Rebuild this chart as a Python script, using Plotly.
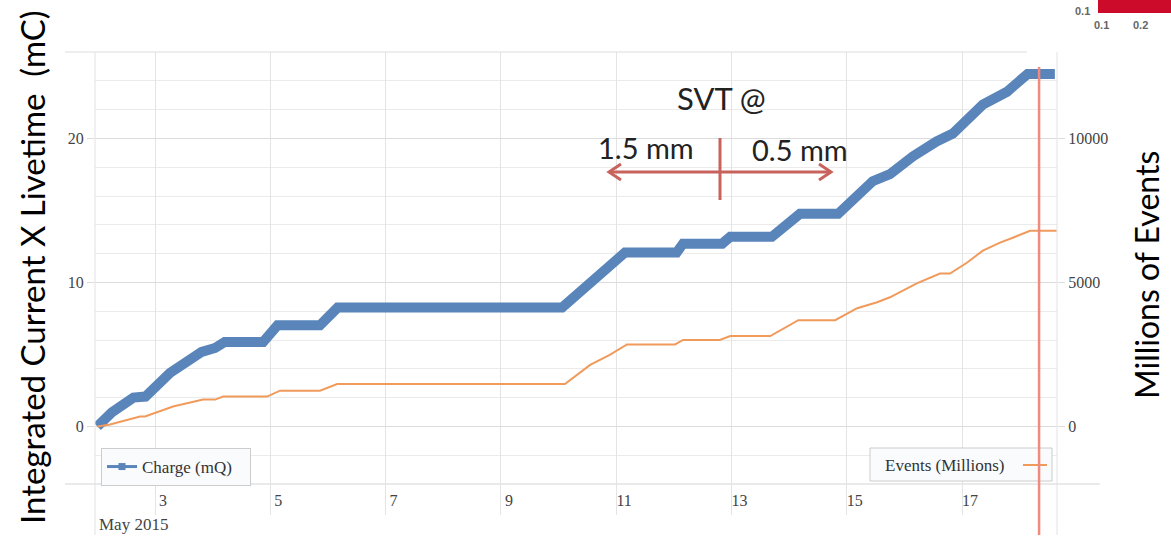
import plotly.graph_objects as go

# ---------------- data ----------------
charge_time = ["2015-05-02 00:00", "2015-05-02 06:00", "2015-05-02 15:00", "2015-05-02 20:00",
               "2015-05-03 06:15", "2015-05-03 19:25", "2015-05-04 01:00", "2015-05-04 05:00",
               "2015-05-04 21:00", "2015-05-05 03:00", "2015-05-05 20:40", "2015-05-06 04:00",
               "2015-05-10 01:30", "2015-05-11 03:40", "2015-05-12 01:10", "2015-05-12 03:50",
               "2015-05-12 20:10", "2015-05-12 23:30", "2015-05-13 16:50", "2015-05-14 04:30",
               "2015-05-14 20:25", "2015-05-15 04:20", "2015-05-15 10:50", "2015-05-15 18:00",
               "2015-05-16 03:35", "2015-05-16 13:25", "2015-05-16 20:10", "2015-05-17 08:40",
               "2015-05-17 18:45", "2015-05-18 03:20", "2015-05-18 14:40"]
charge_mc = [0.0, 0.97, 2.0, 2.07, 3.72, 5.17, 5.45, 5.86, 5.86, 7.03, 7.03, 8.25,
             8.25, 12.07, 12.07, 12.69, 12.69, 13.17, 13.17, 14.76, 14.76, 16.0, 17.03,
             17.52, 18.76, 19.79, 20.34, 22.34, 23.24, 24.48, 24.48]

events_time = ["2015-05-02 00:00", "2015-05-02 05:15", "2015-05-02 17:45", "2015-05-02 19:50",
               "2015-05-03 07:30", "2015-05-03 20:00", "2015-05-04 01:00", "2015-05-04 04:20",
               "2015-05-04 22:40", "2015-05-05 04:00", "2015-05-05 20:40", "2015-05-06 03:50",
               "2015-05-10 02:40", "2015-05-10 13:10", "2015-05-10 21:20", "2015-05-11 04:30",
               "2015-05-12 00:30", "2015-05-12 03:50", "2015-05-12 19:10", "2015-05-12 23:30",
               "2015-05-13 16:10", "2015-05-14 03:50", "2015-05-14 19:10", "2015-05-15 04:20",
               "2015-05-15 12:40", "2015-05-15 18:00", "2015-05-16 05:10", "2015-05-16 14:50",
               "2015-05-16 19:00", "2015-05-17 02:10", "2015-05-17 08:40", "2015-05-17 15:50",
               "2015-05-17 21:10", "2015-05-18 04:20", "2015-05-18 15:30"]
events_millions = [0, 69, 345, 345, 690, 931, 931, 1034, 1034, 1241, 1241, 1470,
                   1470, 2138, 2483, 2845, 2845, 3000, 3000, 3138, 3138, 3690, 3690, 4103,
                   4310, 4483, 4966, 5310, 5310, 5690, 6103, 6379, 6552, 6793, 6793]

x_tickvals = ["2015-05-03", "2015-05-05", "2015-05-07", "2015-05-09", "2015-05-11",
              "2015-05-13", "2015-05-15", "2015-05-17"]
x_ticktext = ["3", "5", "7", "9", "11", "13", "15", "17"]
x_range = ["2015-05-01 23:00", "2015-05-18 15:33"]
marker_time = "2015-05-18 08:05"

y_range = [-4, 26]
y2_range = [-2000, 13000]
y2_tickvals = [0, 5000, 10000]
y2_ticktext = ["0", "5000", "10000"]

# ---------------- geometry helpers (pixels -> paper) ----------------
W, H = 1171, 542
L, R, T, B = 95, 1057, 52, 484


def px(x):
    return (x - L) / (R - L)


def py(y):
    return (B - y) / (B - T)


BLUE = "#5a85ba"
ORANGE = "#f09a5c"
RED = "#c8625c"
GRID = "#ebebeb"
GRID_MAJOR = "#dcdcdc"
SERIF = "Liberation Serif"
SANS = "Lato"
NB = "\u00a0"

fig = go.Figure()
fig.add_trace(go.Scatter(x=charge_time, y=charge_mc, mode="lines",
                         line=dict(color=BLUE, width=10), showlegend=False,
                         name="Charge (mQ)"))
fig.add_trace(go.Scatter(x=events_time, y=events_millions, mode="lines", yaxis="y2",
                         line=dict(color=ORANGE, width=2), showlegend=False,
                         name="Events (Millions)"))
# legend entry for charge
fig.add_trace(go.Scatter(x=[None], y=[None], mode="lines+markers",
                         name="Charge (mQ)" + NB * 3,
                         line=dict(color=BLUE, width=3),
                         marker=dict(color=BLUE, symbol="square", size=7)))

shapes = []
shapes.append(dict(type="line", xref="paper", yref="paper", x0=px(65), x1=px(1027), y0=1, y1=1,
                   line=dict(color="#dddddd", width=1)))
shapes.append(dict(type="line", xref="paper", yref="paper", x0=px(65), x1=px(1100), y0=0, y1=0,
                   line=dict(color="#d4d4d4", width=1)))
shapes.append(dict(type="line", xref="paper", yref="paper", x0=0, x1=0, y0=py(535), y1=1,
                   line=dict(color="#e2e2e2", width=1)))
shapes.append(dict(type="line", xref="paper", yref="paper", x0=1, x1=1, y0=py(535), y1=1,
                   line=dict(color="#e2e2e2", width=1)))
# fake right legend
shapes.append(dict(type="rect", xref="paper", yref="paper", x0=px(870), x1=px(1052),
                   y0=py(481), y1=py(448), fillcolor="#f9fbfd",
                   line=dict(color="#cccccc", width=1)))
shapes.append(dict(type="line", xref="paper", yref="paper", x0=px(1023), x1=px(1047),
                   y0=py(465), y1=py(465), line=dict(color=ORANGE, width=2)))
# red marker line
shapes.append(dict(type="line", xref="x", yref="paper", x0=marker_time, x1=marker_time,
                   y0=py(535), y1=py(67), line=dict(color="#f08a7e", width=2.5)))
# SVT arrow
shapes.append(dict(type="line", xref="paper", yref="paper", x0=px(609), x1=px(831),
                   y0=py(172), y1=py(172), line=dict(color=RED, width=3)))
shapes.append(dict(type="path", xref="paper", yref="paper",
                   path=f"M {px(621)},{py(164)} L {px(609)},{py(172)} L {px(621)},{py(180)}",
                   line=dict(color=RED, width=3)))
shapes.append(dict(type="path", xref="paper", yref="paper",
                   path=f"M {px(819)},{py(164)} L {px(831)},{py(172)} L {px(819)},{py(180)}",
                   line=dict(color=RED, width=3)))
shapes.append(dict(type="line", xref="paper", yref="paper", x0=px(720), x1=px(720),
                   y0=py(200), y1=py(138), line=dict(color=RED, width=3)))
# colorbar fragment at top right
shapes.append(dict(type="rect", xref="paper", yref="paper", x0=px(1098), x1=px(1172),
                   y0=py(13), y1=py(-2), fillcolor="#cc0a2a", line=dict(width=0)))


def ann(text, x, y, size, family=SANS, color="#222222", angle=0, xanchor="center"):
    return dict(text=text, x=px(x), y=py(y), xref="paper", yref="paper", showarrow=False,
                xanchor=xanchor, yanchor="middle", textangle=angle,
                font=dict(family=family, size=size, color=color))


annotations = [
    ann("SVT @", 721, 98, 31),
    ann("1.5 mm", 646, 147, 29),
    ann("0.5 mm", 800, 149, 29),
    ann("Integrated Current X Livetime  (mC)", 32, 267, 33, color="#000000", angle=-90),
    ann("Millions of Events", 1146, 275, 32, color="#000000", angle=-90),
    ann("May 2015", 97, 524, 17, family=SERIF, color="#444444", xanchor="left"),
    ann("Events (Millions)", 944, 465, 17, family=SERIF, color="#333333"),
    ann("<b>0.1</b>", 1082, 11, 11, family="Liberation Sans", color="#666666"),
    ann("<b>0.1</b>", 1101, 25, 11, family="Liberation Sans", color="#666666"),
    ann("<b>0.2</b>", 1140, 25, 11, family="Liberation Sans", color="#666666"),
]

fig.update_layout(
    width=W, height=H,
    margin=dict(l=L, r=W - R, t=T, b=H - B, pad=0),
    paper_bgcolor="white", plot_bgcolor="white",
    xaxis=dict(type="date", range=x_range, tickvals=x_tickvals, ticktext=x_ticktext,
               showgrid=True, gridcolor="#e4e4e4", zeroline=False, showline=False,
               ticks="outside", ticklen=30, tickcolor="#e4e4e4",
               ticklabelstandoff=-28, ticklabelshift=8,
               tickfont=dict(family=SERIF, size=16, color="#444444")),
    yaxis=dict(range=y_range, tick0=0, dtick=10, showgrid=True, gridcolor=GRID_MAJOR,
               zeroline=False, showline=False, ticks="outside", ticklen=7,
               tickcolor=GRID_MAJOR,
               tickfont=dict(family=SERIF, size=16, color="#444444"),
               minor=dict(tickvals=[-2, 2, 4, 6, 8, 12, 14, 16, 18, 22, 24],
                          showgrid=True, gridcolor=GRID, ticks="")),
    yaxis2=dict(range=y2_range, overlaying="y", side="right",
                tickvals=y2_tickvals, ticktext=y2_ticktext, showgrid=False, zeroline=False,
                ticks="outside", ticklen=7, tickcolor=GRID_MAJOR,
                tickfont=dict(family=SERIF, size=16, color="#444444")),
    legend=dict(x=px(101), y=py(448), xanchor="left", yanchor="top",
                bgcolor="#f9fbfd", bordercolor="#cccccc", borderwidth=1,
                font=dict(family=SERIF, size=17, color="#333333")),
    shapes=shapes, annotations=annotations,
)

fig.write_html("out.html", config={"displayModeBar": False},
               post_script="document.body.style.margin='0';")
